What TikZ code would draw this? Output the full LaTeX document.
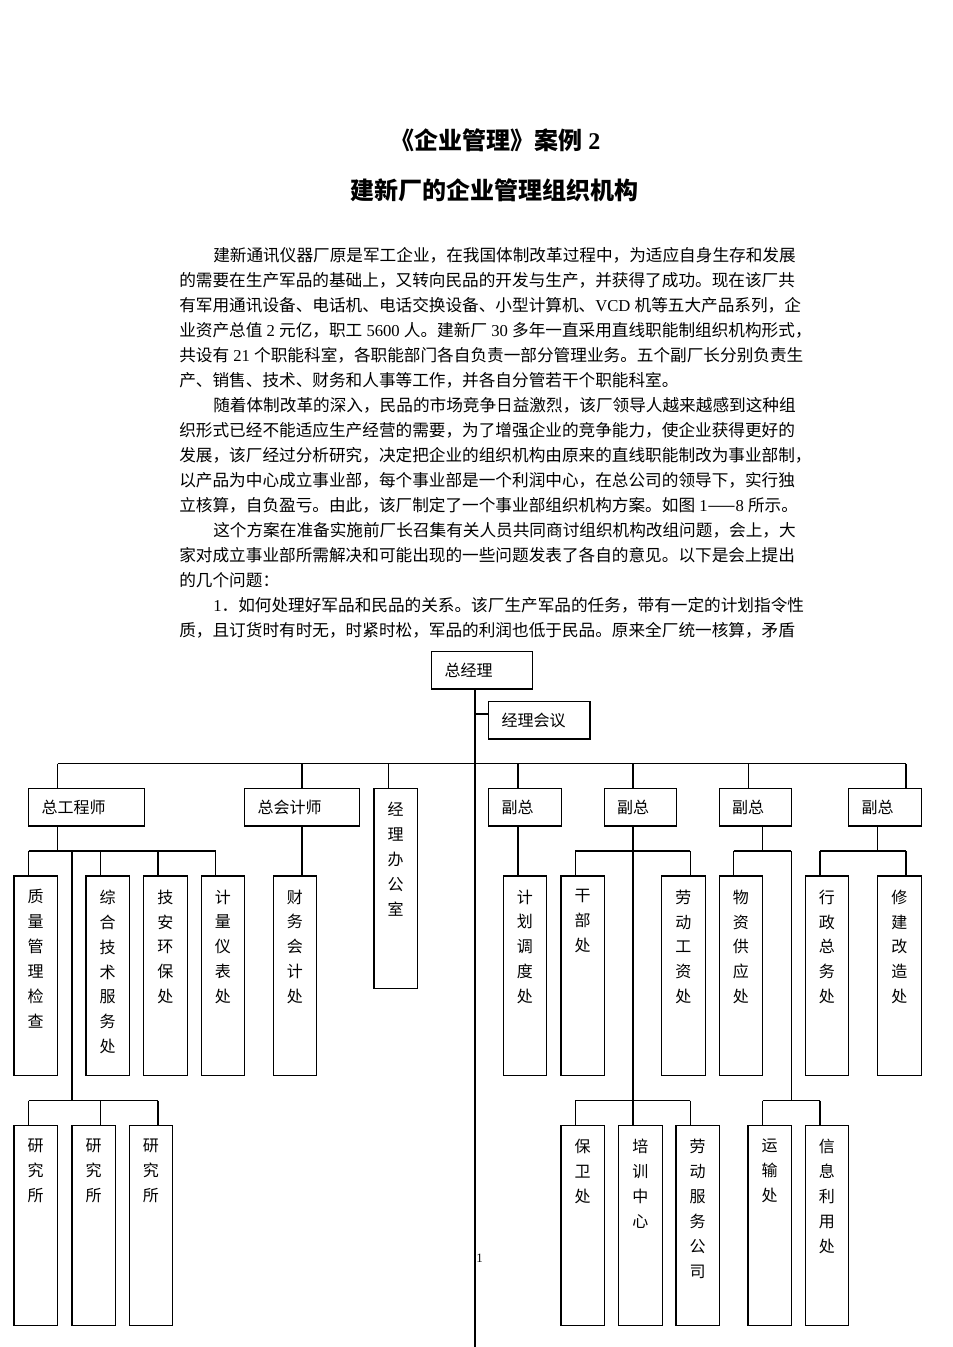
\documentclass[tikz,border=0pt]{standalone}
\usepackage{fontspec}
\setmainfont{Noto Sans CJK SC}
\newfontfamily\latin{Liberation Serif}
\usetikzlibrary{positioning}
\XeTeXlinebreaklocale "zh"
\XeTeXlinebreakskip=0pt plus 1pt
% vertical label inside a department box
\newcommand{\vtext}[2]{\parbox[c][#1][t]{27.1pt}{\centering\vspace*{8.5pt}#2}}
\newcommand{\fullline}[1]{\hbox to 393.1pt{#1}}
\newcommand{\indline}[1]{\hbox to 371.9pt{#1}}
\newcommand{\num}[1]{\hspace{2.6pt}{\latin #1}\hspace{2.6pt}}

\begin{document}
\begin{tikzpicture}[
  x=0.625pt, y=-0.625pt,
  postbox/.style={rectangle, draw, line width=0.7pt, anchor=north west, outer sep=0pt, inner xsep=8pt, inner ysep=0pt, minimum height=23.3pt, text width=#1, align=left, font=\fontsize{10}{12}\selectfont},
  deptbox/.style={rectangle, draw, line width=0.7pt, anchor=north west, outer sep=0pt, inner sep=0pt, font=\fontsize{10}{15.6}\selectfont},
  wire/.style={line width=0.7pt},
  bodyline/.style={anchor=west, inner sep=0pt, font=\fontsize{10.4}{13}\selectfont},
  headline/.style={inner sep=0pt, font=\fontsize{15}{18}\selectfont\bfseries}
]
  \useasboundingbox (0,0) rectangle (952,1347);

  % titles
  \node[headline] (title) at (495.5,140) {《企业管理》案例\hspace{3.5pt}{\latin\bfseries 2}};
  \node[headline] (subtitle) at (494,190) {建新厂的企业管理组织机构};

  % text
  \node[bodyline] (p1) at (213,255) {\indline{建新通讯仪器厂原是军工企业，在我国体制改革过程中，为适应自身生存和发展}};
  \node[bodyline] (p2) at (179,280) {\fullline{的需要在生产军品的基础上，又转向民品的开发与生产，并获得了成功。现在该厂共}};
  \node[bodyline] (p3) at (179,305) {\fullline{有军用通讯设备、电话机、电话交换设备、小型计算机、{\latin VCD}\hspace{2.6pt}机等五大产品系列，企}};
  \node[bodyline] (p4) at (179,330) {\fullline{业资产总值\num{2}元亿，职工\num{5600}人。建新厂\num{30}多年一直采用直线职能制组织机构形式，}};
  \node[bodyline] (p5) at (179,355) {\fullline{共设有\num{21}个职能科室，各职能部门各自负责一部分管理业务。五个副厂长分别负责生}};
  \node[bodyline] (p6) at (179,380) {产、销售、技术、财务和人事等工作，并各自分管若干个职能科室。};
  \node[bodyline] (p7) at (213,405) {\indline{随着体制改革的深入，民品的市场竞争日益激烈，该厂领导人越来越感到这种组}};
  \node[bodyline] (p8) at (179,430) {\fullline{织形式已经不能适应生产经营的需要，为了增强企业的竞争能力，使企业获得更好的}};
  \node[bodyline] (p9) at (179,455) {\fullline{发展，该厂经过分析研究，决定把企业的组织机构由原来的直线职能制改为事业部制，}};
  \node[bodyline] (p10) at (179,480) {\fullline{以产品为中心成立事业部，每个事业部是一个利润中心，在总公司的领导下，实行独}};
  \node[bodyline] (p11) at (179,505) {\fullline{立核算，自负盈亏。由此，该厂制定了一个事业部组织机构方案。如图\hspace{2.6pt}{\latin 1}——{\latin 8}\hspace{2.6pt}所示。}};
  \node[bodyline] (p12) at (213,530) {\indline{这个方案在准备实施前厂长召集有关人员共同商讨组织机构改组问题，会上，大}};
  \node[bodyline] (p13) at (179,555) {\fullline{家对成立事业部所需解决和可能出现的一些问题发表了各自的意见。以下是会上提出}};
  \node[bodyline] (p14) at (179,580) {的几个问题：};
  \node[bodyline] (p15) at (213,605) {\indline{{\latin 1}．如何处理好军品和民品的关系。该厂生产军品的任务，带有一定的计划指令性}};
  \node[bodyline] (p16) at (179,630) {\fullline{质，且订货时有时无，时紧时松，军品的利润也低于民品。原来全厂统一核算，矛盾}};

  % top level
  \node[postbox=47.1pt] (gm) at (431.7,651.7) {总经理};
  \node[postbox=47.3pt] (mtg) at (488.7,701.7) {经理会议};

  % second level
  \node[postbox=56.1pt] (ce) at (28.7,788.7) {总工程师};
  \node[postbox=55.9pt] (ca) at (244.7,788.7) {总会计师};
  \node[deptbox] (office) at (374,788.7) {\vtext{124.6pt}{经\\理\\办\\公\\室}};
  \node[postbox=29.3pt] (vp1) at (488.7,788.7) {副总};
  \node[postbox=29.3pt] (vp2) at (604.3,788.7) {副总};
  \node[postbox=29.3pt] (vp3) at (719.3,788.7) {副总};
  \node[postbox=29.3pt] (vp4) at (848.7,788.7) {副总};

  % third level
  \node[deptbox] (qc) at (14,876) {\vtext{124.6pt}{质\\量\\管\\理\\检\\查}};
  \node[deptbox] (tech) at (86,876) {\vtext{124.6pt}{综\\合\\技\\术\\服\\务\\处}};
  \node[deptbox] (safe) at (143.7,876) {\vtext{124.6pt}{技\\安\\环\\保\\处}};
  \node[deptbox] (meter) at (201.3,876) {\vtext{124.6pt}{计\\量\\仪\\表\\处}};
  \node[deptbox] (fin) at (273.3,876) {\vtext{124.6pt}{财\\务\\会\\计\\处}};
  \node[deptbox] (plan) at (503.3,876) {\vtext{124.6pt}{计\\划\\调\\度\\处}};
  \node[deptbox] (cadre) at (561,876) {\vtext{124.6pt}{干\\部\\处}};
  \node[deptbox] (wage) at (661.7,876) {\vtext{124.6pt}{劳\\动\\工\\资\\处}};
  \node[deptbox] (supply) at (719.3,876) {\vtext{124.6pt}{物\\资\\供\\应\\处}};
  \node[deptbox] (admin) at (805.3,876) {\vtext{124.6pt}{行\\政\\总\\务\\处}};
  \node[deptbox] (build) at (877.7,876) {\vtext{124.6pt}{修\\建\\改\\造\\处}};

  % fourth level
  \node[deptbox] (ri1) at (14,1125.3) {\vtext{125pt}{研\\究\\所}};
  \node[deptbox] (ri2) at (72,1125.3) {\vtext{125pt}{研\\究\\所}};
  \node[deptbox] (ri3) at (129.3,1125.3) {\vtext{125pt}{研\\究\\所}};
  \node[deptbox] (guard) at (561,1125.3) {\vtext{125pt}{保\\卫\\处}};
  \node[deptbox] (train) at (618.7,1125.3) {\vtext{125pt}{培\\训\\中\\心}};
  \node[deptbox] (labsvc) at (676,1125.3) {\vtext{125pt}{劳\\动\\服\\务\\公\\司}};
  \node[deptbox] (trans) at (748,1125.3) {\vtext{125pt}{运\\输\\处}};
  \node[deptbox] (info) at (805.3,1125.3) {\vtext{125pt}{信\\息\\利\\用\\处}};

  \node[inner sep=0pt, font=\latin\fontsize{8}{9}\selectfont] (pg) at (479.5,1258) {1};

  % spine
  \coordinate (spine) at (475,1347);
  \coordinate (jm) at (475,714);
  \draw[wire] (gm.south -| spine) -- (spine);
  \draw[wire] (jm) -- (jm -| mtg.west);

  % main bus
  \coordinate (a1) at (57.7,763.7);
  \coordinate (a2) at (302,763.7);
  \coordinate (a3) at (388.3,763.7);
  \coordinate (a4) at (518,763.7);
  \coordinate (a5) at (633,763.7);
  \coordinate (a6) at (748.3,763.7);
  \coordinate (a7) at (906,763.7);
  \draw[wire] (a1) -- (a7);
  \draw[wire] (a1) -- (a1 |- ce.north);
  \draw[wire] (a2) -- (a2 |- ca.north);
  \draw[wire] (a3) -- (a3 |- office.north);
  \draw[wire] (a4) -- (a4 |- vp1.north);
  \draw[wire] (a5) -- (a5 |- vp2.north);
  \draw[wire] (a6) -- (a6 |- vp3.north);
  \draw[wire] (a7) -- (a7 |- vp4.north);

  % chief engineer
  \coordinate (e0) at (57.7,851);
  \coordinate (e1) at (28.7,851);
  \coordinate (e2) at (100.7,851);
  \coordinate (e3) at (158,851);
  \coordinate (e4) at (215.7,851);
  \coordinate (e5) at (72,851);
  \draw[wire] (e0 |- ce.south) -- (e0);
  \draw[wire] (e1) -- (e4);
  \draw[wire] (e1) -- (e1 |- qc.north);
  \draw[wire] (e2) -- (e2 |- tech.north);
  \draw[wire] (e3) -- (e3 |- safe.north);
  \draw[wire] (e4) -- (e4 |- meter.north);
  \coordinate (r0) at (72,1100.7);
  \coordinate (r1) at (28.7,1100.7);
  \coordinate (r2) at (100.7,1100.7);
  \coordinate (r3) at (158,1100.7);
  \draw[wire] (e5) -- (r0);
  \draw[wire] (r1) -- (r3);
  \draw[wire] (r1) -- (r1 |- ri1.north);
  \draw[wire] (r2) -- (r2 |- ri2.north);
  \draw[wire] (r3) -- (r3 |- ri3.north);

  % chief accountant
  \draw[wire] (a2 |- ca.south) -- (a2 |- fin.north);

  % vice 1
  \draw[wire] (a4 |- vp1.south) -- (a4 |- plan.north);

  % vice 2
  \draw[wire] (a5 |- vp2.south) -- (a5 |- train.north);
  \coordinate (f1) at (575.3,851);
  \coordinate (f2) at (690.3,851);
  \draw[wire] (f1) -- (f2);
  \draw[wire] (f1) -- (f1 |- cadre.north);
  \draw[wire] (f2) -- (f2 |- wage.north);
  \coordinate (g1) at (575.3,1100.7);
  \coordinate (g2) at (690.3,1100.7);
  \draw[wire] (g1) -- (g2);
  \draw[wire] (g1) -- (g1 |- guard.north);
  \draw[wire] (g2) -- (g2 |- labsvc.north);

  % vice 3
  \coordinate (h0) at (762.7,851);
  \coordinate (h1) at (733.7,851);
  \coordinate (h2) at (791.3,851);
  \draw[wire] (h0 |- vp3.south) -- (h0);
  \draw[wire] (h1) -- (h2);
  \draw[wire] (h1) -- (h1 |- supply.north);
  \coordinate (k0) at (791.3,1100.7);
  \coordinate (k1) at (762.7,1100.7);
  \coordinate (k2) at (820,1100.7);
  \draw[wire] (h2) -- (k0);
  \draw[wire] (k1) -- (k2);
  \draw[wire] (k1) -- (k1 |- trans.north);
  \draw[wire] (k2) -- (k2 |- info.north);

  % vice 4
  \coordinate (n0) at (877.7,851);
  \coordinate (n1) at (820,851);
  \coordinate (n2) at (906,851);
  \draw[wire] (n0 |- vp4.south) -- (n0);
  \draw[wire] (n1) -- (n2);
  \draw[wire] (n1) -- (n1 |- admin.north);
  \draw[wire] (n2) -- (n2 |- build.north);
\end{tikzpicture}
\end{document}
